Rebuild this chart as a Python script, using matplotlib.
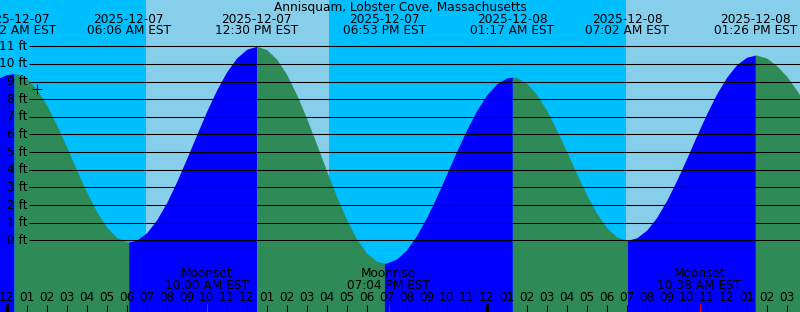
import numpy as np
import matplotlib
matplotlib.use("Agg")
import matplotlib.pyplot as plt

plt.rcParams["font.family"] = ["DejaVu Sans"]

# ---------------- data ----------------
title = "Annisquam, Lobster Cove, Massachusetts"

# tide extremes (hours since 2025-12-07 00:00 EST)
ext_hours = [-5.9, 0.367, 6.1, 12.5, 18.883, 25.283, 31.033, 37.433, 44.5]
ext_ft = [-0.3, 9.45, -0.1, 11.0, -1.3, 9.25, 0.0, 10.5, -0.6]
ext_dates = ["", "2025-12-07", "2025-12-07", "2025-12-07", "2025-12-07",
             "2025-12-08", "2025-12-08", "2025-12-08", ""]
ext_times = ["", "12:22 AM EST", "06:06 AM EST", "12:30 PM EST", "06:53 PM EST",
             "01:17 AM EST", "07:02 AM EST", "01:26 PM EST", ""]

# tide height readings every half hour from -0.5 h to 40 h
curve_start, curve_step = -0.5, 0.5
curve_ft = [9.15, 9.40, 9.44, 9.17, 8.56, 7.66, 6.54, 5.28, 3.98, 2.73, 1.62, 0.74,
            0.16, -0.09, 0.01, 0.43, 1.16, 2.14, 3.33, 4.64, 5.99, 7.32, 8.53, 9.56,
            10.34, 10.83, 11.00, 10.81, 10.27, 9.40, 8.25, 6.90, 5.43, 3.92, 2.47, 1.16,
            0.07, -0.73, -1.19, -1.29, -1.06, -0.53, 0.28, 1.30, 2.49, 3.76, 5.05, 6.27,
            7.36, 8.24, 8.87, 9.20, 9.22, 8.90, 8.26, 7.36, 6.25, 5.02, 3.77, 2.57,
            1.53, 0.72, 0.19, 0.00, 0.14, 0.58, 1.30, 2.26, 3.40, 4.65, 5.94, 7.18,
            8.31, 9.25, 9.96, 10.38, 10.50, 10.33, 9.90, 9.30, 8.50, 7.60]

# daylight intervals (hours)
day_start = [6.967, 30.965]
day_end = [16.115, 45.0]

# moon events
moon_hours = [10.0, 19.067, 34.633]
moon_names = ["Moonset", "Moonrise", "Moonset"]
moon_times = ["10:00 AM EST", "07:04 PM EST", "10:38 AM EST"]

# hour ticks
hour_ticks = list(range(0, 40))
hour_labels = [f"{(h % 12) or 12:02d}" for h in hour_ticks]
ft_levels = list(range(0, 12))
ft_labels = [f"{v} ft" for v in ft_levels]

now_hour, now_ft = 1.53, 8.6

# ---------------- layout helpers ----------------
W, H = 800, 312
PX0, PXH = 6.7, 20.0          # x pixel of hour 0, pixels per hour
PY0, PYF = 240.3, 17.64       # y pixel of 0 ft, pixels per ft

x_lo = (0 - PX0) / PXH
x_hi = (W - PX0) / PXH
y_hi = PY0 / PYF
y_lo = (PY0 - H) / PYF

def hx(px):
    return (px - PX0) / PXH

def fy(py):
    return (PY0 - py) / PYF

NIGHT = "#00BFFF"
DAY = "#87CEEB"
RISE = "#0000FF"
FALL = "#2E8B57"
FS = 8.7
LW1 = 0.75

fig = plt.figure(figsize=(W / 100, H / 100), dpi=100, facecolor=NIGHT)
ax = fig.add_axes([0, 0, 1, 1])
ax.set_facecolor(NIGHT)
ax.set_xlim(x_lo, x_hi)
ax.set_ylim(y_lo, y_hi)
ax.axis("off")

for s, e in zip(day_start, day_end):
    ax.axvspan(s, e, color=DAY, lw=0, zorder=0)

# merge curve readings and extremes
curve_hours = curve_start + curve_step * np.arange(len(curve_ft))
all_h = np.concatenate([curve_hours, ext_hours])
all_v = np.concatenate([curve_ft, ext_ft])
order = np.argsort(all_h)
all_h, all_v = all_h[order], all_v[order]

for i in range(len(ext_hours) - 1):
    a, b = ext_hours[i], ext_hours[i + 1]
    m = (all_h >= a) & (all_h <= b)
    if not m.any():
        continue
    col = RISE if ext_ft[i + 1] > ext_ft[i] else FALL
    ax.fill_between(all_h[m], all_v[m], y_lo, color=col, lw=0,
                    antialiased=False, zorder=1)

# foot lines and labels
ax.hlines(ft_levels, hx(29.3), x_hi, color="black", lw=LW1, zorder=2)
for v, lab in zip(ft_levels, ft_labels):
    ax.text(hx(27.5), v, lab, ha="right", va="center", fontsize=FS, zorder=3)

# now marker
ax.plot([now_hour], [now_ft], marker="+", color="black", ms=6.8, mew=LW1, zorder=3)

# header
ax.text(hx(400), fy(7.3), title, ha="center", va="center", fontsize=FS, zorder=3)
for h, d, t in zip(ext_hours, ext_dates, ext_times):
    if not d:
        continue
    ax.text(h, fy(19.3), d, ha="center", va="center", fontsize=FS, zorder=3)
    ax.text(h, fy(31.0), t, ha="center", va="center", fontsize=FS, zorder=3)

# moon events
for h, n, t in zip(moon_hours, moon_names, moon_times):
    ax.text(h, fy(273.3), n, ha="center", va="center", fontsize=FS, zorder=3)
    ax.text(h, fy(285.7), t, ha="center", va="center", fontsize=FS, zorder=3)
    ax.vlines(h + 0.03, fy(304), fy(312), color="red", lw=LW1, zorder=4)

# hour ticks and labels
for h, lab in zip(hour_ticks, hour_labels):
    thick = (h % 24 == 0)
    ax.vlines(h, fy(305 if not thick else 304), fy(312), color="black",
              lw=2.2 if thick else LW1, zorder=3)
    ax.text(h, fy(297.7), lab, ha="center", va="center", fontsize=FS, zorder=3)

fig.savefig("out.png", dpi=100, facecolor=NIGHT)
